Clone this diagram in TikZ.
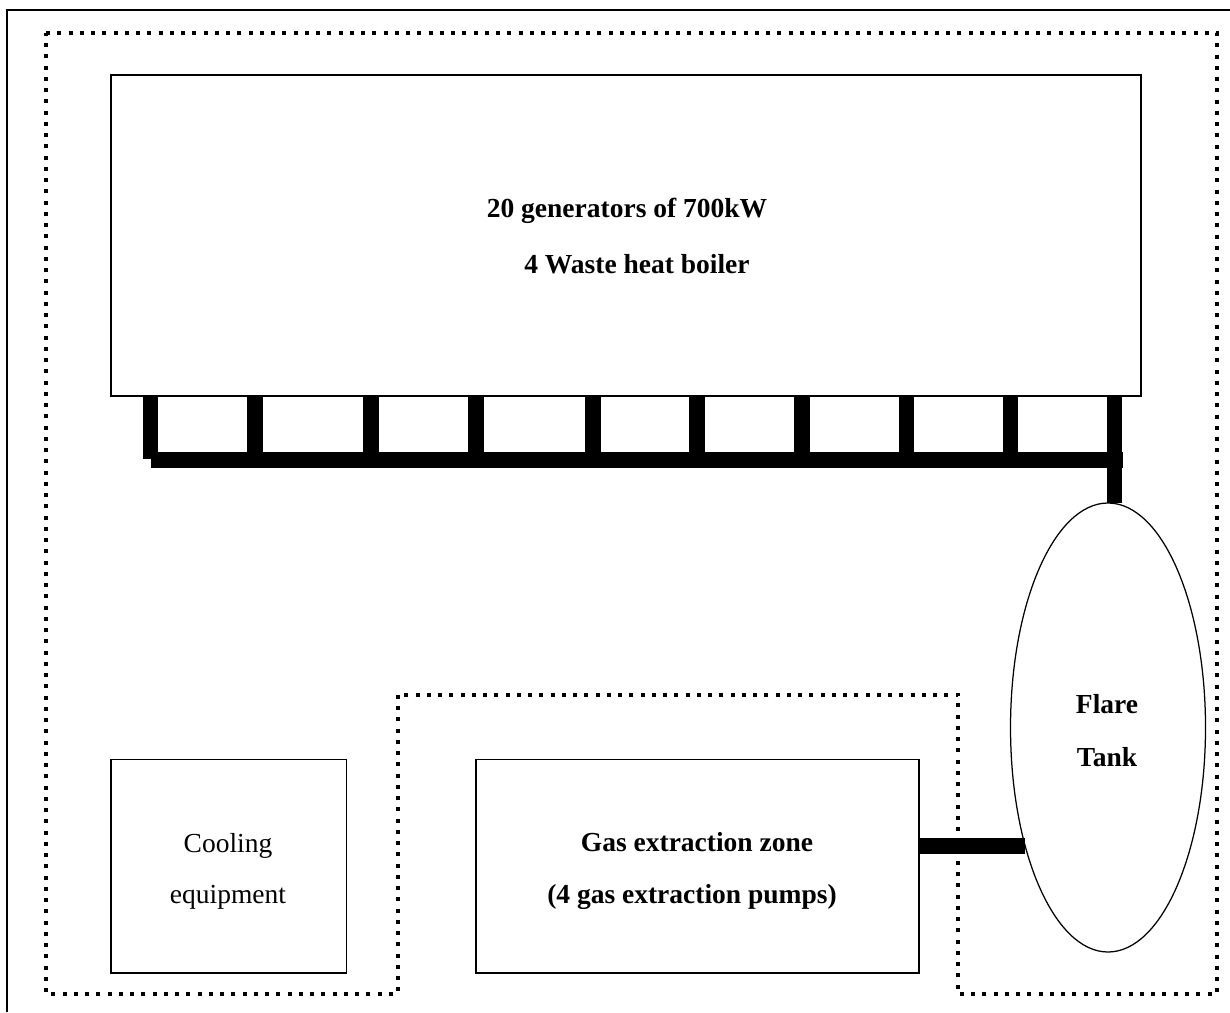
\documentclass[tikz,border=0pt]{standalone}
\usepackage{fontspec}
\setmainfont{Liberation Serif}
\usetikzlibrary{shapes.geometric}
\begin{document}
\begin{tikzpicture}[x=0.4pt, y=-0.4pt,
    unit/.style={draw, line width=0.5pt, fill=white, inner sep=0pt, outer sep=0pt},
    txt/.style={anchor=base, inner sep=0pt, font=\fontsize{11}{13}\selectfont},
    btxt/.style={txt, font=\fontsize{11}{13}\selectfont\bfseries},
    pipe/.style={line width=6.2pt},
    zone/.style={line width=1.6pt, dash pattern=on 1.6pt off 2.9pt}]
    \useasboundingbox (0,0) rectangle (1230,1012);
    % Frame
    \draw[line width=0.5pt] (7,1012) -- (7,10) -- (1230,10);
    % Site boundary
    \draw[zone] (46,33) -- (1217,33) -- (1217,994) -- (958,994) -- (958,694.5)
        -- (397.5,694.5) -- (397.5,994) -- (46,994) -- cycle;
    % Units
    \node[unit, minimum width=412pt, minimum height=128.4pt] (gens) at (626,235.5) {};
    \node[unit, minimum width=94.3pt, minimum height=85.4pt] (cool) at (228.8,866.25) {};
    \node[unit, minimum width=177.2pt, minimum height=85.4pt] (gas) at (697.5,866.25) {};
    \node[unit, ellipse, minimum width=78pt, minimum height=179.6pt] (flare) at (1108,727.5) {};
    % Labels
    \node[btxt] (gensA) at (627,217) {20 generators of 700kW};
    \node[btxt] (gensB) at (637,273) {4 Waste heat boiler};
    \node[txt] (coolA) at (228,852) {Cooling};
    \node[txt] (coolB) at (228,903) {equipment};
    \node[btxt] (gasA) at (697,851) {Gas extraction zone};
    \node[btxt] (gasB) at (692,903) {(4 gas extraction pumps)};
    \node[btxt] (flareA) at (1107,713) {Flare};
    \node[btxt] (flareB) at (1107,766) {Tank};
    % Gas pipes
    \draw[pipe] (150.5,0 |- gens.south) -- (150.5,459);
    \foreach \x in {255,371,476,593,697,802,906.5,1010.5}
        \draw[pipe] (\x,0 |- gens.south) -- (\x,460);
    \draw[pipe] (150.5,460) -- (1122.7,460);
    \draw[pipe] (1114.7,0 |- gens.south) -- (1114.7,0 |- flare.north);
    \draw[pipe] (gas.east |- flare.235) -- (flare.235);
\end{tikzpicture}
\end{document}
